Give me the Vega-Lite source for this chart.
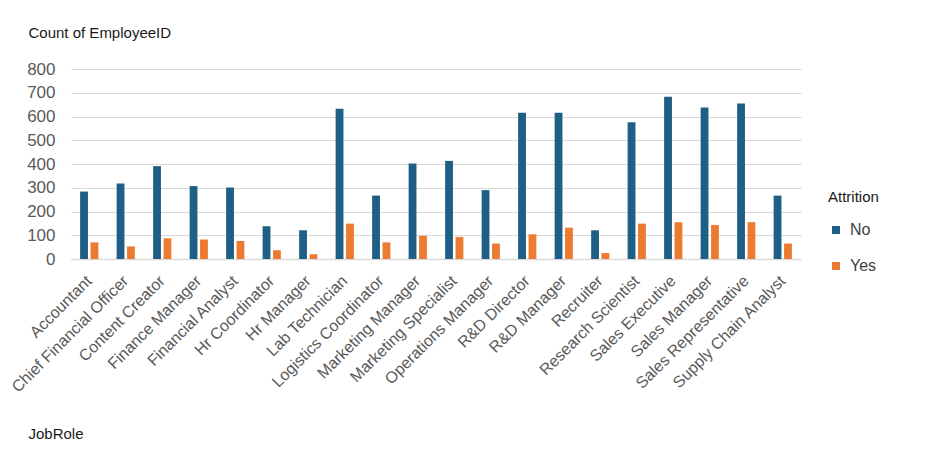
{
  "$schema": "https://vega.github.io/schema/vega-lite/v6.json",
  "autosize": {"type": "none"},
  "width": 730,
  "height": 190,
  "padding": {"left": 71, "top": 69, "right": 144, "bottom": 201},
  "background": "white",
  "config": {
    "font": "Liberation Sans",
    "view": {"stroke": null}
  },
  "data": {
    "values": [
      {"JobRole": "Accountant", "Attrition": "No", "Count": 284},
      {"JobRole": "Accountant", "Attrition": "Yes", "Count": 70},
      {"JobRole": "Chief Financial Officer", "Attrition": "No", "Count": 318},
      {"JobRole": "Chief Financial Officer", "Attrition": "Yes", "Count": 53},
      {"JobRole": "Content Creator", "Attrition": "No", "Count": 391},
      {"JobRole": "Content Creator", "Attrition": "Yes", "Count": 87},
      {"JobRole": "Finance Manager", "Attrition": "No", "Count": 307},
      {"JobRole": "Finance Manager", "Attrition": "Yes", "Count": 82},
      {"JobRole": "Financial Analyst", "Attrition": "No", "Count": 301},
      {"JobRole": "Financial Analyst", "Attrition": "Yes", "Count": 76},
      {"JobRole": "Hr Coordinator", "Attrition": "No", "Count": 138},
      {"JobRole": "Hr Coordinator", "Attrition": "Yes", "Count": 37},
      {"JobRole": "Hr Manager", "Attrition": "No", "Count": 121},
      {"JobRole": "Hr Manager", "Attrition": "Yes", "Count": 20},
      {"JobRole": "Lab Technician", "Attrition": "No", "Count": 633},
      {"JobRole": "Lab Technician", "Attrition": "Yes", "Count": 149},
      {"JobRole": "Logistics Coordinator", "Attrition": "No", "Count": 267},
      {"JobRole": "Logistics Coordinator", "Attrition": "Yes", "Count": 70},
      {"JobRole": "Marketing Manager", "Attrition": "No", "Count": 402},
      {"JobRole": "Marketing Manager", "Attrition": "Yes", "Count": 98},
      {"JobRole": "Marketing Specialist", "Attrition": "No", "Count": 413},
      {"JobRole": "Marketing Specialist", "Attrition": "Yes", "Count": 93},
      {"JobRole": "Operations Manager", "Attrition": "No", "Count": 290},
      {"JobRole": "Operations Manager", "Attrition": "Yes", "Count": 65},
      {"JobRole": "R&D Director", "Attrition": "No", "Count": 616},
      {"JobRole": "R&D Director", "Attrition": "Yes", "Count": 104},
      {"JobRole": "R&D Manager", "Attrition": "No", "Count": 616},
      {"JobRole": "R&D Manager", "Attrition": "Yes", "Count": 132},
      {"JobRole": "Recruiter", "Attrition": "No", "Count": 121},
      {"JobRole": "Recruiter", "Attrition": "Yes", "Count": 25},
      {"JobRole": "Research Scientist", "Attrition": "No", "Count": 576},
      {"JobRole": "Research Scientist", "Attrition": "Yes", "Count": 149},
      {"JobRole": "Sales Executive", "Attrition": "No", "Count": 683},
      {"JobRole": "Sales Executive", "Attrition": "Yes", "Count": 155},
      {"JobRole": "Sales Manager", "Attrition": "No", "Count": 638},
      {"JobRole": "Sales Manager", "Attrition": "Yes", "Count": 143},
      {"JobRole": "Sales Representative", "Attrition": "No", "Count": 655},
      {"JobRole": "Sales Representative", "Attrition": "Yes", "Count": 155},
      {"JobRole": "Supply Chain Analyst", "Attrition": "No", "Count": 267},
      {"JobRole": "Supply Chain Analyst", "Attrition": "Yes", "Count": 65}
    ]
  },
  "mark": {"type": "bar"},
  "encoding": {
    "x": {
      "field": "JobRole",
      "type": "nominal",
      "sort": null,
      "scale": {"paddingInner": 0.5, "paddingOuter": 0.25},
      "axis": {
        "title": "JobRole",
        "titleAngle": 0,
        "titleAlign": "left",
        "titleBaseline": "middle",
        "titleX": -43,
        "titleY": 174,
        "titleFontSize": 15,
        "titleFontWeight": "normal",
        "titleColor": "#1a1a1a",
        "labelAngle": -45,
        "labelAlign": "right",
        "labelBaseline": "middle",
        "labelFontSize": 16,
        "labelColor": "#595959",
        "labelPadding": 19,
        "ticks": false,
        "domainColor": "#d9d9d9",
        "domainWidth": 1.5
      }
    },
    "xOffset": {
      "field": "Attrition",
      "type": "nominal",
      "scale": {"paddingInner": 0.25}
    },
    "y": {
      "field": "Count",
      "type": "quantitative",
      "scale": {"domain": [0, 800]},
      "axis": {
        "title": "Count of EmployeeID",
        "titleAngle": 0,
        "titleAlign": "left",
        "titleBaseline": "middle",
        "titleX": -43,
        "titleY": -37,
        "titleFontSize": 15,
        "titleFontWeight": "normal",
        "titleColor": "#1a1a1a",
        "values": [0, 100, 200, 300, 400, 500, 600, 700, 800],
        "labelFontSize": 17,
        "labelColor": "#595959",
        "labelPadding": 16,
        "ticks": false,
        "domain": false,
        "gridColor": "#d9d9d9",
        "gridWidth": 1.2
      }
    },
    "color": {
      "field": "Attrition",
      "type": "nominal",
      "scale": {"domain": ["No", "Yes"], "range": ["#1f5f86", "#ec7b31"]},
      "legend": {
        "title": "Attrition",
        "orient": "none",
        "legendX": 757,
        "legendY": 121,
        "titleFontSize": 15,
        "titleFontWeight": "normal",
        "titleColor": "#1a1a1a",
        "titlePadding": 17,
        "labelFontSize": 16,
        "labelColor": "#404040",
        "symbolType": "square",
        "symbolSize": 64,
        "symbolStrokeWidth": 0,
        "rowPadding": 20,
        "labelOffset": 6,
        "offset": 0
      }
    }
  }
}
